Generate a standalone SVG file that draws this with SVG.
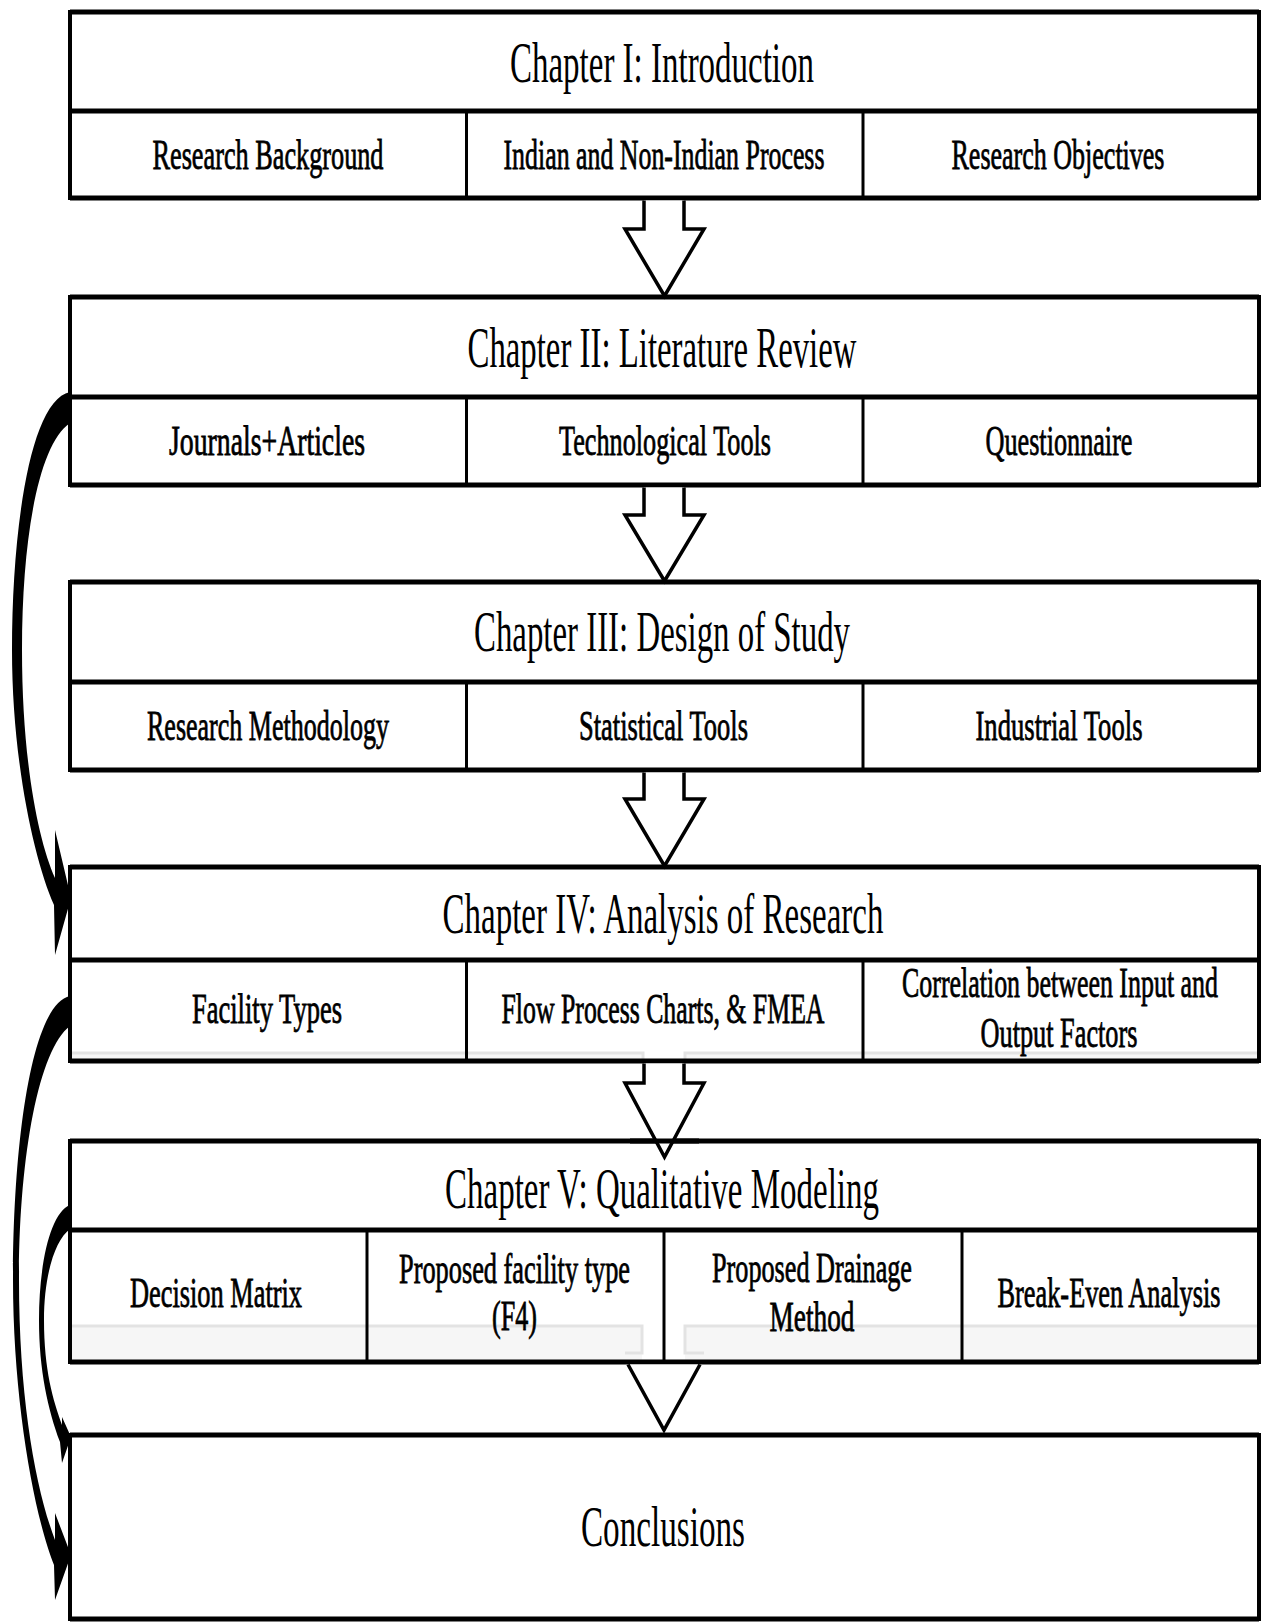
<svg xmlns="http://www.w3.org/2000/svg" width="1263" height="1622" viewBox="0 0 1263 1622">
<style>
.box{fill:#fff;stroke:#000;stroke-width:4}
.hl{stroke:#000;stroke-width:5;fill:none}
.vl{stroke:#000;stroke-width:3;fill:none}
.title{font-family:"Liberation Serif","Times New Roman",serif;font-size:58px;text-anchor:middle;fill:#000}
.sub{font-family:"Liberation Serif","Times New Roman",serif;font-size:42px;text-anchor:middle;fill:#000;stroke:#000;stroke-width:0.8}
.blk{fill:#fff;stroke:#000;stroke-width:3.5;stroke-linejoin:miter}
.ghost{stroke:#e3e3e3;stroke-width:3;fill:none}
.ghostfill{fill:#f6f6f6}
.curve{fill:#000}
</style>
<rect width="1263" height="1622" fill="#fff"/>

<g id="ch1">
<rect class="box" x="70" y="12" width="1189" height="186"/>
<line class="hl" x1="70" y1="12" x2="1259" y2="12"/>
<line class="hl" x1="70" y1="111" x2="1259" y2="111"/>
<line class="hl" x1="70" y1="198" x2="1259" y2="198"/>
<line class="vl" x1="466.5" y1="111" x2="466.5" y2="198"/>
<line class="vl" x1="863" y1="111" x2="863" y2="198"/>
<text class="title" x="662" y="82" textLength="304" lengthAdjust="spacingAndGlyphs">Chapter I: Introduction</text>
<text class="sub" x="268" y="169" textLength="231" lengthAdjust="spacingAndGlyphs">Research Background</text>
<text class="sub" x="664" y="169" textLength="321" lengthAdjust="spacingAndGlyphs">Indian and Non-Indian Process</text>
<text class="sub" x="1058" y="169" textLength="213" lengthAdjust="spacingAndGlyphs">Research Objectives</text>
</g>

<g id="ch2">
<rect class="box" x="70" y="297" width="1189" height="188"/>
<line class="hl" x1="70" y1="297" x2="1259" y2="297"/>
<line class="hl" x1="70" y1="397" x2="1259" y2="397"/>
<line class="hl" x1="70" y1="485" x2="1259" y2="485"/>
<line class="vl" x1="466.5" y1="397" x2="466.5" y2="485"/>
<line class="vl" x1="863" y1="397" x2="863" y2="485"/>
<text class="title" x="662" y="367" textLength="389" lengthAdjust="spacingAndGlyphs">Chapter II: Literature Review</text>
<text class="sub" x="267" y="455" textLength="196" lengthAdjust="spacingAndGlyphs">Journals+Articles</text>
<text class="sub" x="665" y="455" textLength="212" lengthAdjust="spacingAndGlyphs">Technological Tools</text>
<text class="sub" x="1059" y="455" textLength="147" lengthAdjust="spacingAndGlyphs">Questionnaire</text>
</g>

<g id="ch3">
<rect class="box" x="70" y="582" width="1189" height="188"/>
<line class="hl" x1="70" y1="582" x2="1259" y2="582"/>
<line class="hl" x1="70" y1="682" x2="1259" y2="682"/>
<line class="hl" x1="70" y1="770" x2="1259" y2="770"/>
<line class="vl" x1="466.5" y1="682" x2="466.5" y2="770"/>
<line class="vl" x1="863" y1="682" x2="863" y2="770"/>
<text class="title" x="662" y="651" textLength="376" lengthAdjust="spacingAndGlyphs">Chapter III: Design of Study</text>
<text class="sub" x="268" y="740" textLength="242" lengthAdjust="spacingAndGlyphs">Research Methodology</text>
<text class="sub" x="663.5" y="740" textLength="169" lengthAdjust="spacingAndGlyphs">Statistical Tools</text>
<text class="sub" x="1059" y="740" textLength="167" lengthAdjust="spacingAndGlyphs">Industrial Tools</text>
</g>

<g id="ch4">
<rect class="box" x="70" y="867" width="1189" height="194"/>
<rect class="ghostfill" x="72" y="1053" width="571" height="6"/>
<rect class="ghostfill" x="685" y="1053" width="572" height="6"/>
<path class="ghost" d="M72 1053 H643 V1059 M1257 1053 H685 V1059"/>
<line class="hl" x1="70" y1="867" x2="1259" y2="867"/>
<line class="hl" x1="70" y1="960" x2="1259" y2="960"/>
<line class="hl" x1="70" y1="1061" x2="1259" y2="1061"/>
<line class="vl" x1="466.5" y1="960" x2="466.5" y2="1061"/>
<line class="vl" x1="863" y1="960" x2="863" y2="1061"/>
<text class="title" x="663" y="933" textLength="441" lengthAdjust="spacingAndGlyphs">Chapter IV: Analysis of Research</text>
<text class="sub" x="267" y="1023" textLength="150" lengthAdjust="spacingAndGlyphs">Facility Types</text>
<text class="sub" x="663" y="1023" textLength="323" lengthAdjust="spacingAndGlyphs">Flow Process Charts, &amp; FMEA</text>
<text class="sub" x="1060" y="997" textLength="316" lengthAdjust="spacingAndGlyphs">Correlation between Input and</text>
<text class="sub" x="1059" y="1047" textLength="157" lengthAdjust="spacingAndGlyphs">Output Factors</text>
</g>

<g id="ch5">
<rect class="box" x="70" y="1141" width="1189" height="221"/>
<rect class="ghostfill" x="72" y="1327" width="570" height="33"/>
<rect class="ghostfill" x="685" y="1327" width="572" height="33"/>
<path class="ghost" d="M72 1326 H642 V1353 H625 M1257 1326 H685 V1353 H704"/>
<line class="hl" x1="70" y1="1141" x2="1259" y2="1141"/>
<line class="hl" x1="70" y1="1230" x2="1259" y2="1230"/>
<line class="hl" x1="70" y1="1362" x2="1259" y2="1362"/>
<line class="vl" x1="367" y1="1230" x2="367" y2="1362"/>
<line class="vl" x1="664" y1="1230" x2="664" y2="1362"/>
<line class="vl" x1="962" y1="1230" x2="962" y2="1362"/>
<text class="title" x="662" y="1208" textLength="434" lengthAdjust="spacingAndGlyphs">Chapter V: Qualitative Modeling</text>
<text class="sub" x="216" y="1307" textLength="172" lengthAdjust="spacingAndGlyphs">Decision Matrix</text>
<text class="sub" x="514.5" y="1283" textLength="231" lengthAdjust="spacingAndGlyphs">Proposed facility type</text>
<text class="sub" x="514.5" y="1330" textLength="45" lengthAdjust="spacingAndGlyphs">(F4)</text>
<text class="sub" x="812" y="1282" textLength="200" lengthAdjust="spacingAndGlyphs">Proposed Drainage</text>
<text class="sub" x="812" y="1331" textLength="85" lengthAdjust="spacingAndGlyphs">Method</text>
<text class="sub" x="1109" y="1307" textLength="223" lengthAdjust="spacingAndGlyphs">Break-Even Analysis</text>
</g>

<g id="conclusions">
<rect class="box" x="70" y="1435" width="1189" height="184"/>
<line class="hl" x1="70" y1="1435" x2="1259" y2="1435"/>
<line class="hl" x1="70" y1="1619" x2="1259" y2="1619"/>
<text class="title" x="663" y="1546" textLength="164" lengthAdjust="spacingAndGlyphs">Conclusions</text>
</g>

<g id="connectors">
<path class="blk" d="M644 200.5 V229 H625 L664.5 296 L704 229 H684 V200.5"/>
<path class="blk" d="M644 487.5 V515 H625 L664.5 581 L704 515 H684 V487.5"/>
<path class="blk" d="M644 772.5 V799 H625 L664.5 866 L704 799 H684 V772.5"/>
<path class="blk" d="M644 1063.5 V1083 H625 L664.5 1157 L704 1083 H684 V1063.5"/>
<line class="hl" x1="630" y1="1141" x2="699" y2="1141"/>
<path class="blk" d="M628 1364.5 L664 1430 L700 1364.5"/>

<path class="curve" d="M70 392 C30 400 12 530 12 650 C12 760 34 860 54 905 L55 955 L71 898 L55 830 L55 878 C38 840 22 760 22 650 C22 540 38 445 70 423 Z"/>
<path class="curve" d="M70 996 C30 1005 13 1150 13 1280 C13 1400 34 1515 54 1565 L55 1600 L71 1555 L55 1513 L55 1540 C36 1490 19 1400 19 1280 C19 1160 38 1050 70 1026 Z"/>
<path class="curve" d="M70 1205 C50 1213 39 1265 39 1320 C39 1370 48 1410 60 1442 L62 1463 L71 1437 L62 1417 L62 1425 C53 1400 44 1370 44 1320 C44 1275 55 1240 70 1229 Z"/>
</g>
</svg>
